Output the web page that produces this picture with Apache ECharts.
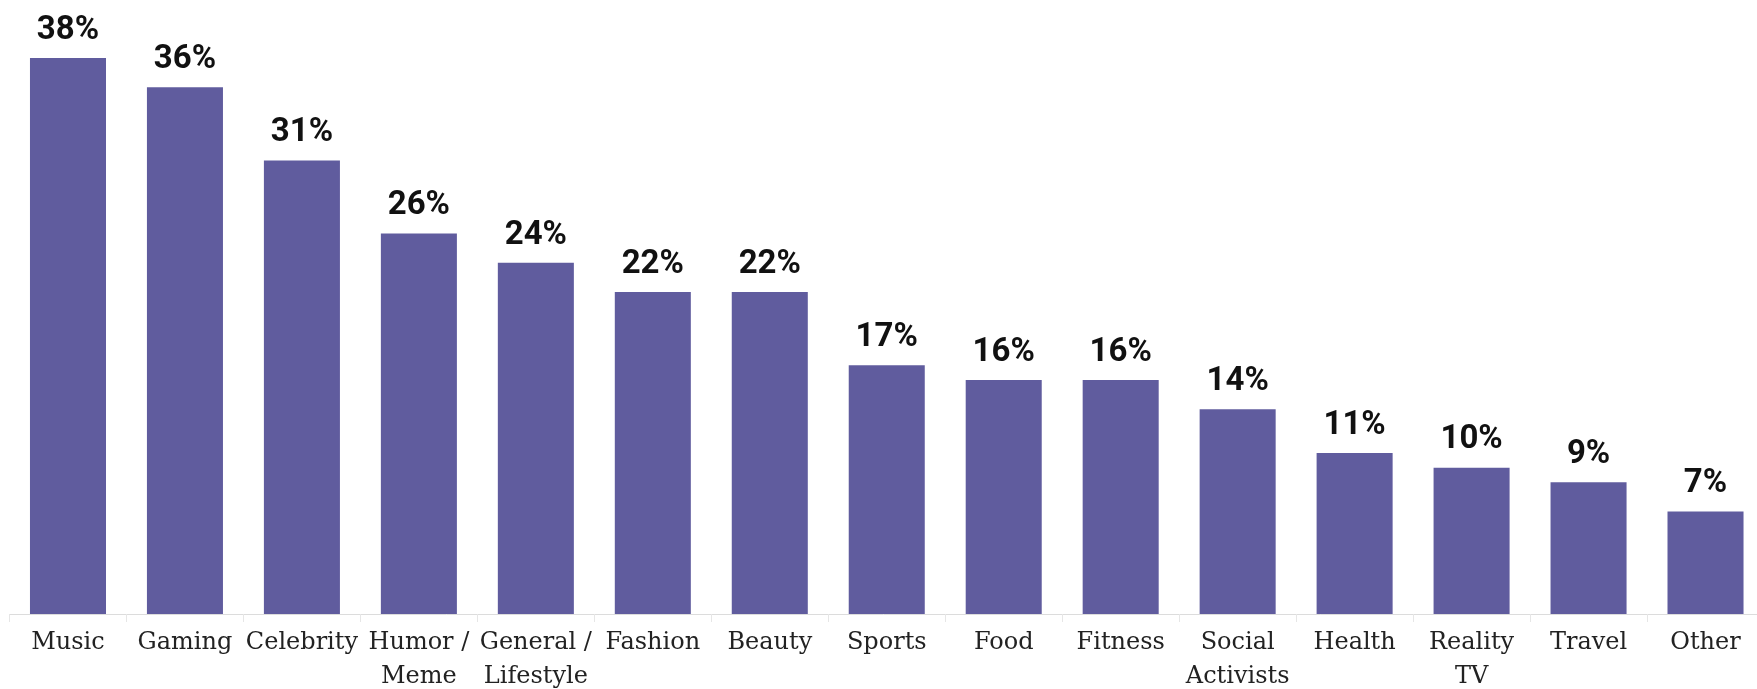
<!DOCTYPE html>
<html>
<head>
<meta charset="utf-8">
<title>Content categories</title>
<script src="https://cdn.jsdelivr.net/npm/echarts@6/dist/echarts.min.js"></script>
<style>
  html, body { margin: 0; padding: 0; background: #fff; }
  #chart { width: 1757px; height: 689px; }
</style>
</head>
<body>
<div id="chart"></div>
<script>
// categories along the x axis
const categories = ['Music', 'Gaming', 'Celebrity', 'Humor /\nMeme', 'General /\nLifestyle', 'Fashion', 'Beauty',
  'Sports', 'Food', 'Fitness', 'Social\nActivists', 'Health', 'Reality\nTV', 'Travel', 'Other'];
// share of respondents, percent
const shares = [38, 36, 31, 26, 24, 22, 22, 17, 16, 16, 14, 11, 10, 9, 7];

let chart = echarts.init(document.getElementById('chart'));

let option = {
  animation: false,
  grid: {
    left: 9.5,
    width: 1754.5,
    top: 58,
    bottom: 75,
    outerBoundsMode: 'none'
  },
  xAxis: {
    type: 'category',
    data: categories,
    axisLine: { lineStyle: { color: '#dcdcdc', width: 1 } },
    axisTick: { show: true, length: 8, lineStyle: { color: '#e6e6e6' } },
    axisLabel: {
      interval: 0,
      margin: 12,
      color: '#222',
      fontFamily: 'DejaVu Serif',
      fontSize: 24,
      lineHeight: 34
    }
  },
  yAxis: {
    type: 'value',
    min: 0,
    max: 38,
    show: false
  },
  series: [
    {
      type: 'bar',
      data: shares,
      barCategoryGap: '35%',
      itemStyle: { color: '#605c9e' },
      label: {
        show: true,
        position: 'top',
        distance: 11,
        formatter: '{c}%',
        color: '#111',
        fontFamily: 'Roboto',
        fontWeight: 'bold',
        fontSize: 33
      }
    }
  ]
};

chart.setOption(option);
</script>
</body>
</html>
